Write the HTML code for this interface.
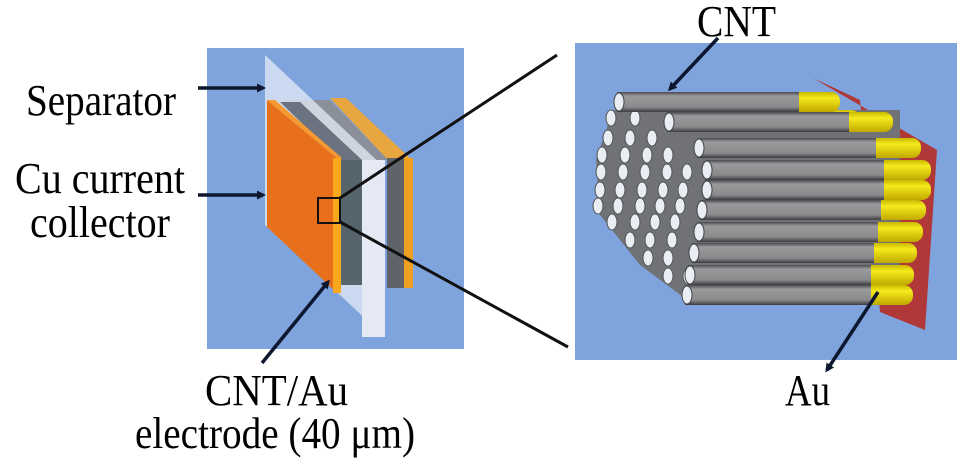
<!DOCTYPE html>
<html><head><meta charset="utf-8"><style>
html,body{margin:0;padding:0;background:#fff;}
svg{display:block}
text{font-family:"Liberation Serif",serif;fill:#000}
</style></head><body>
<svg width="969" height="472" viewBox="0 0 969 472" xmlns="http://www.w3.org/2000/svg">
<defs>
<marker id="ah" markerWidth="9" markerHeight="9" refX="6" refY="4.5" orient="auto" markerUnits="userSpaceOnUse">
<path d="M0,0 L9,4.5 L0,9 z" fill="#0d1830"/></marker>
<linearGradient id="tube" x1="0" y1="0" x2="0" y2="1">
<stop offset="0" stop-color="#4a4a4e"/><stop offset="0.2" stop-color="#9a9a9c"/><stop offset="0.75" stop-color="#8a8a8c"/><stop offset="1" stop-color="#3c3c40"/></linearGradient>
<linearGradient id="gold" x1="0" y1="0" x2="0" y2="1">
<stop offset="0" stop-color="#c8b800"/><stop offset="0.3" stop-color="#f5ea1c"/><stop offset="1" stop-color="#c0a800"/></linearGradient>
</defs>
<rect x="207" y="48" width="257" height="301" fill="#7fa4dd"/>
<polygon points="340,160 282,100 330,100 388,160" fill="#8a8f99"/>
<polygon points="388,160 330,98 346,98 412,160" fill="#e8a640"/>
<rect x="387" y="158" width="18" height="130" fill="#60646a"/>
<rect x="404" y="158" width="9" height="130" fill="#f0a020"/>
<polygon points="265,55 385,168 385,337 265,225" fill="#e6ecf7" opacity="0.75"/>
<rect x="362" y="160" width="23" height="177" fill="#e4e9f3"/>
<polygon points="340,160 280,102 300,102 362,160" fill="#6b7380"/>
<rect x="340" y="160" width="22" height="125" fill="#56646c"/>
<polygon points="267,100 337,158 337,293 267,227" fill="#e8701c"/>
<polygon points="267,100 275,100 342,158 337,158" fill="#f59a30"/>
<rect x="333" y="158" width="8" height="135" fill="#f7a81c"/>
<rect x="318" y="198" width="22" height="25" fill="none" stroke="#111" stroke-width="2"/>
<line x1="340" y1="198" x2="557" y2="55" stroke="#111" stroke-width="3"/>
<line x1="340" y1="222" x2="568" y2="347" stroke="#111" stroke-width="3"/>
<line x1="198" y1="88" x2="263" y2="88" stroke="#0d1830" stroke-width="3.5" marker-end="url(#ah)"/>
<line x1="198" y1="195" x2="263" y2="195" stroke="#0d1830" stroke-width="3.5" marker-end="url(#ah)"/>
<line x1="262" y1="363" x2="328" y2="282" stroke="#0d1830" stroke-width="3.5" marker-end="url(#ah)"/>
<rect x="575" y="43" width="382" height="317" fill="#7fa4dd"/>
<polygon points="813,78 937,150 925,330 880,312 860,100" fill="#b03838"/>
<polygon points="613,110 640,110 900,110 900,300 690,302 640,265 600,215 596,160" fill="#707276"/>
<g fill="#e8eef4" stroke="#555" stroke-width="1">
<ellipse cx="611" cy="118" rx="5" ry="8"/><ellipse cx="635" cy="118" rx="5" ry="8"/>
<ellipse cx="608" cy="138" rx="5" ry="8"/><ellipse cx="630" cy="138" rx="5" ry="8"/><ellipse cx="652" cy="138" rx="5" ry="8"/>
<ellipse cx="602" cy="155" rx="5" ry="8"/><ellipse cx="625" cy="155" rx="5" ry="8"/><ellipse cx="647" cy="155" rx="5" ry="8"/><ellipse cx="668" cy="155" rx="5" ry="8"/>
<ellipse cx="601" cy="172" rx="5" ry="8"/><ellipse cx="623" cy="172" rx="5" ry="8"/><ellipse cx="645" cy="172" rx="5" ry="8"/><ellipse cx="667" cy="172" rx="5" ry="8"/><ellipse cx="687" cy="172" rx="5" ry="8"/>
<ellipse cx="600" cy="190" rx="5" ry="8"/><ellipse cx="620" cy="190" rx="5" ry="8"/><ellipse cx="642" cy="190" rx="5" ry="8"/><ellipse cx="663" cy="190" rx="5" ry="8"/><ellipse cx="683" cy="190" rx="5" ry="8"/>
<ellipse cx="598" cy="206" rx="5" ry="8"/><ellipse cx="618" cy="206" rx="5" ry="8"/><ellipse cx="640" cy="206" rx="5" ry="8"/><ellipse cx="660" cy="206" rx="5" ry="8"/><ellipse cx="680" cy="206" rx="5" ry="8"/>
<ellipse cx="612" cy="222" rx="5" ry="8"/><ellipse cx="635" cy="222" rx="5" ry="8"/><ellipse cx="655" cy="222" rx="5" ry="8"/><ellipse cx="675" cy="222" rx="5" ry="8"/>
<ellipse cx="630" cy="240" rx="5" ry="8"/><ellipse cx="650" cy="240" rx="5" ry="8"/><ellipse cx="672" cy="240" rx="5" ry="8"/>
<ellipse cx="648" cy="258" rx="5" ry="8"/><ellipse cx="668" cy="258" rx="5" ry="8"/>
<ellipse cx="668" cy="276" rx="5" ry="8"/><ellipse cx="688" cy="276" rx="5" ry="8"/>
</g>
<g>
<rect x="828" y="110" width="30" height="12" rx="6" fill="url(#gold)"/>
<rect x="615" y="92" width="225" height="20" rx="9" fill="url(#gold)"/><rect x="617" y="92" width="182" height="20" fill="url(#tube)"/><ellipse cx="619" cy="102" rx="5" ry="9" fill="#e8eef4" stroke="#444"/>
<rect x="665" y="112" width="228" height="20" rx="9" fill="url(#gold)"/><rect x="667" y="112" width="182" height="20" fill="url(#tube)"/><ellipse cx="669" cy="122" rx="5" ry="9" fill="#e8eef4" stroke="#444"/>
<rect x="695" y="138" width="226" height="20" rx="9" fill="url(#gold)"/><rect x="697" y="138" width="179" height="20" fill="url(#tube)"/><ellipse cx="699" cy="148" rx="5" ry="9" fill="#e8eef4" stroke="#444"/>
<rect x="703" y="160" width="228" height="20" rx="9" fill="url(#gold)"/><rect x="705" y="160" width="179" height="20" fill="url(#tube)"/><ellipse cx="707" cy="170" rx="5" ry="9" fill="#e8eef4" stroke="#444"/>
<rect x="703" y="180" width="228" height="20" rx="9" fill="url(#gold)"/><rect x="705" y="180" width="179" height="20" fill="url(#tube)"/><ellipse cx="707" cy="190" rx="5" ry="9" fill="#e8eef4" stroke="#444"/>
<rect x="698" y="200" width="228" height="20" rx="9" fill="url(#gold)"/><rect x="700" y="200" width="181" height="20" fill="url(#tube)"/><ellipse cx="702" cy="210" rx="5" ry="9" fill="#e8eef4" stroke="#444"/>
<rect x="695" y="222" width="228" height="20" rx="9" fill="url(#gold)"/><rect x="697" y="222" width="181" height="20" fill="url(#tube)"/><ellipse cx="699" cy="232" rx="5" ry="9" fill="#e8eef4" stroke="#444"/>
<rect x="690" y="243" width="227" height="20" rx="9" fill="url(#gold)"/><rect x="692" y="243" width="182" height="20" fill="url(#tube)"/><ellipse cx="694" cy="253" rx="5" ry="9" fill="#e8eef4" stroke="#444"/>
<rect x="686" y="265" width="228" height="20" rx="9" fill="url(#gold)"/><rect x="688" y="265" width="183" height="20" fill="url(#tube)"/><ellipse cx="690" cy="275" rx="5" ry="9" fill="#e8eef4" stroke="#444"/>
<rect x="683" y="285" width="230" height="20" rx="9" fill="url(#gold)"/><rect x="685" y="285" width="186" height="20" fill="url(#tube)"/><ellipse cx="687" cy="295" rx="5" ry="9" fill="#e8eef4" stroke="#444"/>
</g>
<line x1="718" y1="38" x2="670" y2="89" stroke="#0d1830" stroke-width="3.5" marker-end="url(#ah)"/>
<line x1="878" y1="292" x2="827" y2="370" stroke="#0d1830" stroke-width="3.5" marker-end="url(#ah)"/>
<text x="26" y="115" font-size="44" textLength="150" lengthAdjust="spacingAndGlyphs">Separator</text>
<text x="15" y="193" font-size="44" textLength="170" lengthAdjust="spacingAndGlyphs">Cu current</text>
<text x="30" y="237" font-size="44" textLength="140" lengthAdjust="spacingAndGlyphs">collector</text>
<text x="205" y="405" font-size="44" textLength="143" lengthAdjust="spacingAndGlyphs">CNT/Au</text>
<text x="135" y="448" font-size="44" textLength="280" lengthAdjust="spacingAndGlyphs">electrode (40 μm)</text>
<text x="697" y="36" font-size="44" textLength="79" lengthAdjust="spacingAndGlyphs">CNT</text>
<text x="785" y="405" font-size="44" textLength="45" lengthAdjust="spacingAndGlyphs">Au</text>
</svg>
</body></html>
